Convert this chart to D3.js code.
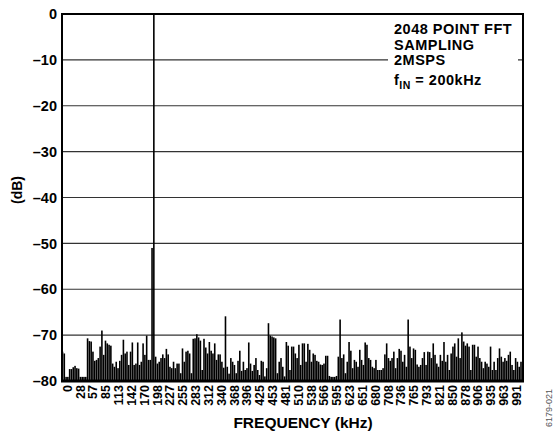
<!DOCTYPE html>
<html>
<head>
<meta charset="utf-8">
<script src="https://cdn.jsdelivr.net/npm/d3@7"></script>
<style>
  html, body { margin: 0; padding: 0; background: #fff; }
  svg { display: block; font-family: "Liberation Sans", Arial, Helvetica, sans-serif; font-weight: bold; }
</style>
</head>
<body>
<svg id="chart" width="554" height="433"></svg>
<script>
// ---- data ----
// Spectrum samples: one value per 4 FFT bins (bin width 2000/2048 kHz)
const binStepKHz = 4 * 2000 / 2048;
const spectrumDb = [
  -73.6,-74.0,-79.1,-79.1,-77.4,-77.4,-77.0,-76.7,-77.2,-77.3,
  -79.1,-79.1,-79.1,-79.1,-70.7,-71.3,-71.4,-73.6,-75.6,-75.4,
  -75.0,-72.5,-69.0,-74.3,-71.2,-71.8,-72.1,-72.3,-76.2,-76.9,
  -75.8,-77.2,-75.6,-74.3,-71.0,-74.0,-73.6,-76.5,-73.6,-71.6,
  -76.5,-76.2,-71.6,-76.5,-75.8,-71.8,-74.3,-70.1,-75.4,-75.4,
  -51.0,0.0,-74.7,-76.2,-75.8,-75.0,-74.2,-75.0,-73.0,-74.2,
  -76.9,-77.2,-75.8,-77.2,-76.2,-76.2,-78.3,-72.9,-75.8,-73.6,
  -73.4,-74.0,-78.3,-70.8,-70.7,-69.8,-70.5,-71.2,-77.6,-70.8,
  -72.7,-74.0,-71.5,-73.4,-74.0,-71.8,-75.4,-74.2,-74.2,-75.8,
  -77.1,-65.9,-76.9,-78.4,-75.0,-75.8,-76.5,-78.3,-75.6,-73.4,
  -77.8,-75.8,-77.6,-77.2,-71.6,-76.2,-77.8,-76.5,-75.0,-77.6,
  -78.7,-75.6,-75.8,-79.0,-77.2,-67.4,-70.1,-70.3,-70.5,-70.7,
  -78.3,-75.8,-75.0,-76.9,-79.0,-71.5,-72.3,-77.6,-72.5,-72.5,
  -74.0,-75.0,-72.1,-76.5,-71.8,-71.8,-75.8,-71.9,-73.2,-75.8,
  -74.0,-74.3,-75.6,-75.8,-76.4,-76.5,-76.2,-74.5,-74.5,-78.9,
  -79.1,-79.1,-79.1,-78.9,-74.7,-66.6,-75.0,-74.2,-78.3,-75.8,
  -71.5,-73.4,-77.2,-75.4,-75.8,-76.9,-73.2,-75.4,-76.5,-71.6,
  -72.1,-75.0,-75.4,-76.9,-77.2,-75.4,-77.6,-77.6,-77.6,-77.2,
  -74.2,-71.8,-75.0,-75.6,-75.0,-73.6,-77.2,-75.0,-73.0,-73.4,
  -75.8,-74.3,-76.9,-66.6,-72.5,-75.0,-72.9,-73.2,-76.4,-76.9,
  -76.5,-75.0,-73.7,-76.5,-73.6,-73.7,-75.0,-71.8,-74.3,-76.2,
  -76.9,-74.3,-75.6,-71.5,-75.8,-74.3,-77.6,-74.0,-72.5,-71.8,
  -74.7,-70.7,-75.0,-69.4,-71.4,-72.3,-71.8,-72.5,-77.6,-72.1,
  -72.1,-74.7,-72.5,-75.0,-75.8,-77.2,-75.8,-76.2,-76.9,-72.5,
  -77.6,-75.8,-77.6,-75.0,-72.9,-74.7,-75.8,-75.0,-75.6,-74.3,
  -73.6,-76.5,-77.6,-75.0,-75.8,-76.9,-75.8
];
const xTickLabels = ["0","28","57","85","113","142","170","198","227","255","283","312","340","368","396","425","453","481","510","538","566","595","623","651","680","708","736","765","793","821","850","878","906","935","963","991"];
const yTicks = [0,-10,-20,-30,-40,-50,-60,-70,-80];
const legendLines = ["2048 POINT FFT","SAMPLING","2MSPS"];
const xTitle = "FREQUENCY (kHz)";
const yTitle = "(dB)";
const figId = "6179-021";

// ---- layout ----
const svg = d3.select("#chart");
const plot = { left: 62, right: 523, top: 14, bottom: 381 };

const x = d3.scaleLinear().domain([0, 1000]).range([62.5, 521]);
const xLab = d3.scalePoint().domain(xTickLabels).range([66.7, 516]);
const y = d3.scaleLinear().domain([-80, 0]).range([plot.bottom, plot.top]);

// gridlines
svg.append("g").selectAll("line").data(yTicks.filter(d => d > -80 && d < 0)).join("line")
  .attr("x1", plot.left).attr("x2", plot.right)
  .attr("y1", d => y(d)).attr("y2", d => y(d))
  .attr("stroke", "#333").attr("stroke-width", 1.1);

// legend white box
svg.append("rect").attr("x", 388).attr("y", plot.top + 1).attr("width", 130).attr("height", 85).attr("fill", "#fff");

// bars
const data = spectrumDb.map((v, i) => ({ f: i * binStepKHz, v }));
svg.append("g").selectAll("rect").data(data).join("rect")
  .attr("x", d => x(d.f) - 0.8)
  .attr("width", 1.6)
  .attr("y", d => y(d.v))
  .attr("height", d => y(-80) - y(d.v))
  .attr("fill", "#000");

// frame
svg.append("path")
  .attr("d", `M${plot.left},${plot.bottom}V${plot.top}H${plot.right}V${plot.bottom}`)
  .attr("fill", "none").attr("stroke", "#000").attr("stroke-width", 2);
svg.append("line").attr("x1", plot.left - 1).attr("x2", plot.right + 1)
  .attr("y1", plot.bottom).attr("y2", plot.bottom)
  .attr("stroke", "#000").attr("stroke-width", 3);

// y axis labels
const yAxis = d3.axisLeft(y).tickValues(yTicks).tickSize(0).tickPadding(5)
  .tickFormat(d => d === 0 ? "0" : "\u2013" + Math.abs(d));
const yg = svg.append("g").attr("transform", `translate(${plot.left},0)`).call(yAxis);
yg.select(".domain").remove();
yg.selectAll("text").attr("font-size", 14.5).attr("font-weight", "bold").attr("fill", "#000")
  .attr("font-family", "Liberation Sans, Arial, sans-serif");

// x axis labels (rotated)
const xAxis = d3.axisBottom(xLab).tickSize(0).tickPadding(0);
const xg = svg.append("g").attr("transform", `translate(0,${plot.bottom})`).call(xAxis);
xg.select(".domain").remove();
xg.selectAll("text")
  .attr("font-size", 12.5).attr("font-weight", "bold").attr("fill", "#000")
  .attr("font-family", "Liberation Sans, Arial, sans-serif")
  .attr("text-anchor", "end")
  .attr("transform", "rotate(-90)")
  .attr("x", -4).attr("y", 0).attr("dy", "0.36em");

// axis titles
svg.append("text").attr("x", 303).attr("y", 428).attr("text-anchor", "middle")
  .attr("font-size", 15.5).text(xTitle);
svg.append("text").attr("transform", "translate(22,190) rotate(-90)").attr("text-anchor", "middle")
  .attr("font-size", 14).text(yTitle);

// legend text
const leg = svg.append("g").attr("font-size", 14.5).attr("letter-spacing", 0.5);
leg.selectAll("text.l").data(legendLines).join("text").attr("class", "l")
  .attr("x", 394).attr("y", (d, i) => 34.3 + i * 15.3).text(d => d);
const fin = leg.append("text").attr("x", 394).attr("y", 84.5);
fin.append("tspan").text("f");
fin.append("tspan").attr("font-size", 10.5).attr("dy", 4).text("IN");
fin.append("tspan").attr("dy", -4).text(" = 200kHz");

// figure id
svg.append("text").attr("transform", "translate(552,408) rotate(-90)").attr("text-anchor", "middle")
  .attr("font-size", 9).attr("font-weight", "normal").attr("fill", "#555").text(figId);
</script>
</body>
</html>
